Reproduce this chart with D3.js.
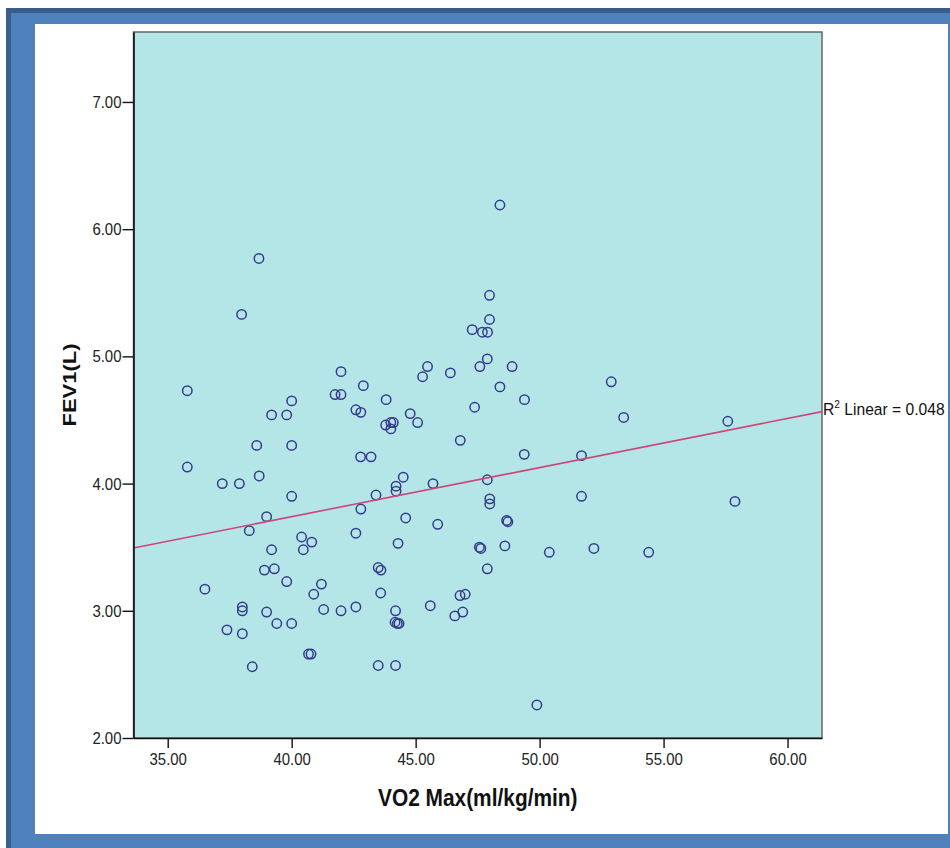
<!DOCTYPE html>
<html>
<head>
    <meta charset="utf-8" />
    <style>
        body { margin: 0; background-color: white; }
        text { font-family: "Liberation Sans", Arial, sans-serif; }
    </style>
    <script src="https://d3js.org/d3.v7.min.js"></script>
</head>
<body>
    <script>
        // VO2 max (ml/kg/min) and FEV1 (L)
        var vo2 = [35.79, 35.79, 36.50, 37.20, 37.39, 37.89, 37.98, 38.01, 38.01, 38.01,
            38.29, 38.41, 38.59, 38.68, 38.69, 38.90, 38.99, 38.99, 39.19, 39.19,
            39.30, 39.40, 39.80, 39.80, 40.00, 40.00, 40.00, 40.00, 40.40, 40.47,
            40.68, 40.78, 40.81, 40.89, 41.20, 41.29, 41.75, 41.99, 41.99, 41.99,
            42.59, 42.79, 42.89, 42.59, 42.59, 42.78, 42.79, 43.20, 43.40, 43.49,
            43.60, 43.59, 43.49, 43.81, 43.79, 44.00, 44.10, 44.00, 44.21, 44.21,
            44.19, 44.17, 44.26, 44.33, 44.19, 44.29, 44.50, 44.60, 44.78, 45.08,
            45.28, 45.48, 45.59, 45.70, 45.89, 46.40, 46.58, 46.80, 46.90, 46.79,
            47.00, 47.38, 47.28, 47.59, 47.69, 47.90, 47.57, 47.63, 47.89, 47.89,
            47.89, 47.98, 47.98, 47.99, 47.99, 48.40, 48.40, 48.60, 48.67, 48.72,
            48.89, 49.39, 49.38, 49.89, 50.39, 51.69, 51.69, 52.19, 52.89, 53.39,
            54.40, 57.59, 57.88];
        var fev1 = [4.73, 4.13, 3.17, 4.00, 2.85, 4.00, 5.33, 3.03, 3.00, 2.82,
            3.63, 2.56, 4.30, 5.77, 4.06, 3.32, 3.74, 2.99, 4.54, 3.48,
            3.33, 2.90, 3.23, 4.54, 4.65, 4.30, 3.90, 2.90, 3.58, 3.48,
            2.66, 2.66, 3.54, 3.13, 3.21, 3.01, 4.70, 4.70, 4.88, 3.00,
            4.58, 4.56, 4.77, 3.61, 3.03, 4.21, 3.80, 4.21, 3.91, 3.34,
            3.32, 3.14, 2.57, 4.66, 4.46, 4.48, 4.48, 4.43, 3.98, 3.94,
            3.00, 2.91, 2.90, 2.90, 2.57, 3.53, 4.05, 3.73, 4.55, 4.48,
            4.84, 4.92, 3.04, 4.00, 3.68, 4.87, 2.96, 4.34, 2.99, 3.12,
            3.13, 4.60, 5.21, 4.92, 5.19, 5.19, 3.50, 3.49, 4.98, 4.03,
            3.33, 5.29, 5.48, 3.88, 3.84, 6.19, 4.76, 3.51, 3.71, 3.70,
            4.92, 4.66, 4.23, 2.26, 3.46, 4.22, 3.90, 3.49, 4.80, 4.52,
            3.46, 4.49, 3.86];
        var xTicks = [35, 40, 45, 50, 55, 60];
        var yTicks = [2, 3, 4, 5, 6, 7];
        var fitIntercept = 2.196, fitSlope = 0.0386;
        var fitR2 = "0.048";

        var width = 950, height = 848;
        var plotLeft = 133.5, plotRight = 822, plotTop = 32, plotBottom = 738;
        var squeeze = 0.88;

        var svg = d3.select("body").append("svg")
            .attr("width", width)
            .attr("height", height);

        // slide frame
        svg.append("rect").attr("x", 6).attr("y", 8).attr("width", 944).attr("height", 840).attr("fill", "#3a5e8c");
        svg.append("rect").attr("x", 11).attr("y", 13).attr("width", 939).attr("height", 835).attr("fill", "#4f81bd");
        svg.append("rect").attr("x", 35).attr("y", 24).attr("width", 913).attr("height", 810).attr("fill", "white");

        var x = d3.scaleLinear().domain([33.62, 61.39]).range([plotLeft, plotRight]);
        var y = d3.scaleLinear().domain([2, 7.55]).range([plotBottom, plotTop]);

        svg.append("rect")
            .attr("x", plotLeft).attr("y", plotTop)
            .attr("width", plotRight - plotLeft).attr("height", plotBottom - plotTop)
            .attr("fill", "#b4e6e7")
            .attr("stroke", "#666")
            .attr("stroke-width", 1.5);

        var points = vo2.map(function (v, i) { return [v, fev1[i]]; });

        svg.append("g").selectAll("circle")
            .data(points)
            .enter().append("circle")
            .attr("cx", function (d) { return x(d[0]); })
            .attr("cy", function (d) { return y(d[1]); })
            .attr("r", 4.7)
            .attr("fill", "none")
            .attr("stroke", "#363a8c")
            .attr("stroke-width", 1.5);

        // fit line
        var xd = x.domain();
        svg.append("line")
            .attr("x1", x(xd[0])).attr("y1", y(fitIntercept + fitSlope * xd[0]))
            .attr("x2", x(xd[1])).attr("y2", y(fitIntercept + fitSlope * xd[1]))
            .attr("stroke", "#cf4679")
            .attr("stroke-width", 1.6);

        var r2 = svg.append("text")
            .attr("transform", "translate(823,415) scale(0.92,1)")
            .attr("font-size", 17)
            .attr("fill", "#111");
        r2.append("tspan").text("R");
        r2.append("tspan").attr("font-size", 11).attr("dy", -7).text("2");
        r2.append("tspan").attr("dy", 7).text(" Linear = " + fitR2);

        // axes
        var xAxis = svg.append("g")
            .attr("transform", "translate(0," + plotBottom + ")")
            .call(d3.axisBottom(x).tickValues(xTicks).tickFormat(d3.format(".2f"))
                .tickSize(10).tickPadding(5).tickSizeOuter(0));
        var yAxis = svg.append("g")
            .attr("transform", "translate(" + plotLeft + ",0)")
            .call(d3.axisLeft(y).tickValues(yTicks).tickFormat(d3.format(".2f"))
                .tickSize(11).tickPadding(1).tickSizeOuter(0));

        [xAxis, yAxis].forEach(function (g) {
            g.attr("font-size", 17).attr("font-family", "Liberation Sans, Arial, sans-serif");
            g.select(".domain").attr("stroke", "#111").attr("stroke-width", 1.6);
            g.selectAll(".tick line").attr("stroke", "#111").attr("stroke-width", 1.4);
            g.selectAll(".tick text")
                .attr("fill", "#222")
                .attr("transform", "scale(" + squeeze + ",1)");
        });
        yAxis.selectAll(".tick text").attr("x", -12 / squeeze);

        // axis titles
        svg.append("text")
            .attr("transform", "translate(" + ((plotLeft + plotRight) / 2) + ",806) scale(0.87,1)")
            .attr("text-anchor", "middle")
            .attr("font-size", 24)
            .attr("font-weight", "bold")
            .attr("fill", "#111")
            .text("VO2 Max(ml/kg/min)");

        svg.append("text")
            .attr("transform", "translate(76," + ((plotTop + plotBottom) / 2) + ") rotate(-90) scale(1,0.85)")
            .attr("text-anchor", "middle")
            .attr("font-size", 22)
            .attr("font-weight", "bold")
            .attr("fill", "#111")
            .text("FEV1(L)");
    </script>
</body>
</html>
